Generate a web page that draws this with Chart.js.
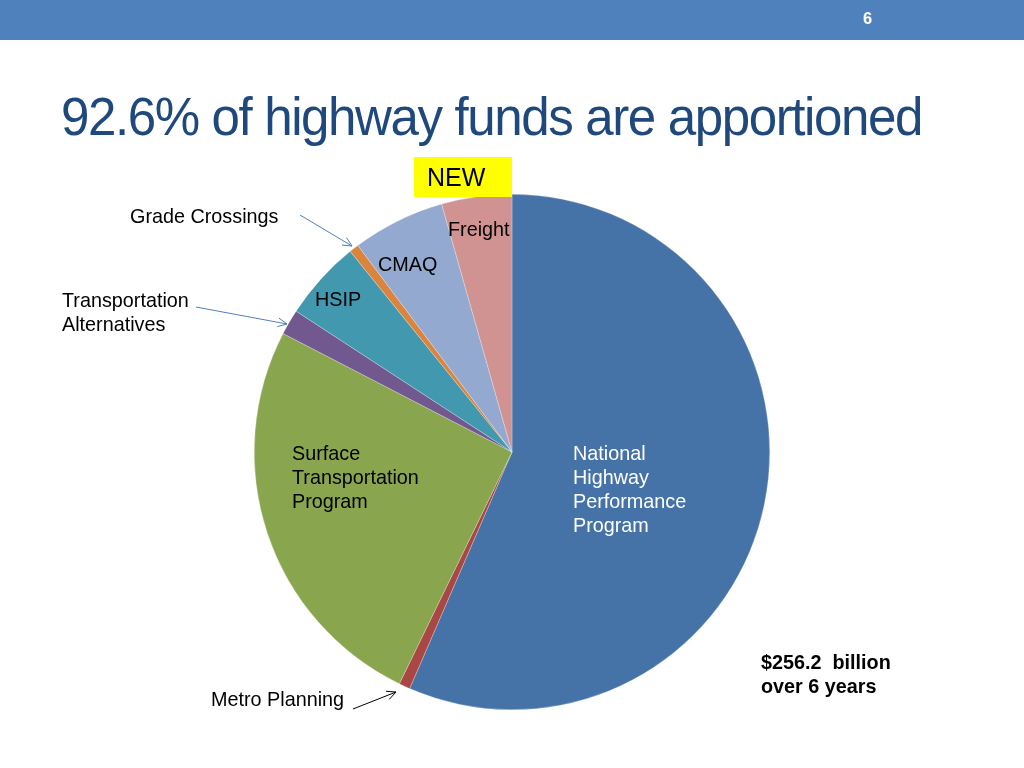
<!DOCTYPE html>
<html lang="en">
<head>
    <meta charset="UTF-8">
    <title>Highway funds</title>
    <style>
        html, body { margin: 0; padding: 0; background: #fff; }
        #wrap { position: relative; width: 1024px; height: 768px; overflow: hidden; }
        #band { position: absolute; left: 0; top: 0; width: 1024px; height: 40px; background: #4F81BD; }
        #pagenum { position: absolute; left: 863px; top: 10px; color: #fff; font: bold 16px "Liberation Sans", Arial, sans-serif; }
        #title { position: absolute; left: 61px; top: 85px; color: #1F497D; font: 54px "Liberation Sans Narrow", "Liberation Sans", Arial, sans-serif; white-space: nowrap; transform-origin: 0 0; letter-spacing: -1.5px; }
        canvas { position: absolute; left: 0; top: 0; }
    </style>
</head>
<body>
<div id="wrap">
    <div id="band"></div>
    <div id="pagenum">6</div>
    <div id="title">92.6% of highway funds are apportioned</div>
    <canvas id="pie" width="1024" height="768"></canvas>
</div>
<script src="https://cdn.jsdelivr.net/npm/chart.js"></script>
<script>
    // programs, clockwise from 12 o'clock (share of $256.2 billion, %)
    const programs = ['National Highway Performance Program', 'Metro Planning', 'Surface Transportation Program',
        'Transportation Alternatives', 'HSIP', 'Grade Crossings', 'CMAQ', 'Freight'];
    const shares = [56.5, 0.7, 25.4, 1.6, 5.0, 0.6, 5.8, 4.4];
    const colors = ['#4572A7', '#AA4643', '#89A54E', '#71588F', '#4198AF', '#DB843D', '#93A9CF', '#D19392'];

    // squeeze the title to its width (no narrow font here)
    const t = document.getElementById('title');
    const tw = t.getBoundingClientRect().width;
    t.style.transform = 'scaleX(' + (861 / tw) + ')';

    const font = '"Liberation Sans", Arial, sans-serif';

    function arrow(ctx, x1, y1, x2, y2, col) {
        ctx.save();
        ctx.strokeStyle = col;
        ctx.lineWidth = 1;
        ctx.beginPath();
        ctx.moveTo(x1, y1);
        ctx.lineTo(x2, y2);
        const a = Math.atan2(y2 - y1, x2 - x1);
        ctx.moveTo(x2 - 10 * Math.cos(a - 0.45), y2 - 10 * Math.sin(a - 0.45));
        ctx.lineTo(x2, y2);
        ctx.lineTo(x2 - 10 * Math.cos(a + 0.45), y2 - 10 * Math.sin(a + 0.45));
        ctx.stroke();
        ctx.restore();
    }

    const extras = {
        id: 'extras',
        afterDraw(chart) {
            const ctx = chart.ctx;
            ctx.save();
            // NEW box
            ctx.fillStyle = '#FFFF00';
            ctx.fillRect(414, 157, 98, 40);
            ctx.fillStyle = '#000';
            ctx.textBaseline = 'middle';
            ctx.font = '25px ' + font;
            ctx.fillText('NEW', 427, 179);

            ctx.font = '19.8px ' + font;
            ctx.fillText('Grade Crossings', 130, 218);
            ctx.fillText('Freight', 448, 231);
            ctx.fillText('CMAQ', 378, 266);
            ctx.fillText('HSIP', 315, 301);
            ctx.fillText('Transportation', 62, 302);
            ctx.fillText('Alternatives', 62, 326);
            ctx.fillText('Surface', 292, 455);
            ctx.fillText('Transportation', 292, 479);
            ctx.fillText('Program', 292, 503);
            ctx.fillText('Metro Planning', 211, 701);

            ctx.fillStyle = '#fff';
            ['National', 'Highway', 'Performance', 'Program'].forEach((s, i) => ctx.fillText(s, 573, 455 + i * 24));

            ctx.fillStyle = '#000';
            ctx.font = 'bold 19.8px ' + font;
            ctx.fillText('$256.2  billion', 761, 664);
            ctx.fillText('over 6 years', 761, 688);
            ctx.restore();

            arrow(ctx, 300, 215, 352, 246, '#4F81BD');
            arrow(ctx, 196, 307, 287, 324, '#4F81BD');
            arrow(ctx, 353, 709, 396, 692, '#000');
        }
    };

    new Chart(document.getElementById('pie'), {
        type: 'pie',
        data: {
            labels: programs,
            datasets: [{
                data: shares,
                backgroundColor: colors,
                borderColor: 'rgba(255,255,255,0.5)',
                borderWidth: 0.5
            }]
        },
        options: {
            responsive: false,
            animation: false,
            layout: { padding: { top: 194, bottom: 58, left: 254, right: 254 } },
            plugins: { legend: { display: false }, tooltip: { enabled: false } }
        },
        plugins: [extras]
    });
</script>
</body>
</html>
